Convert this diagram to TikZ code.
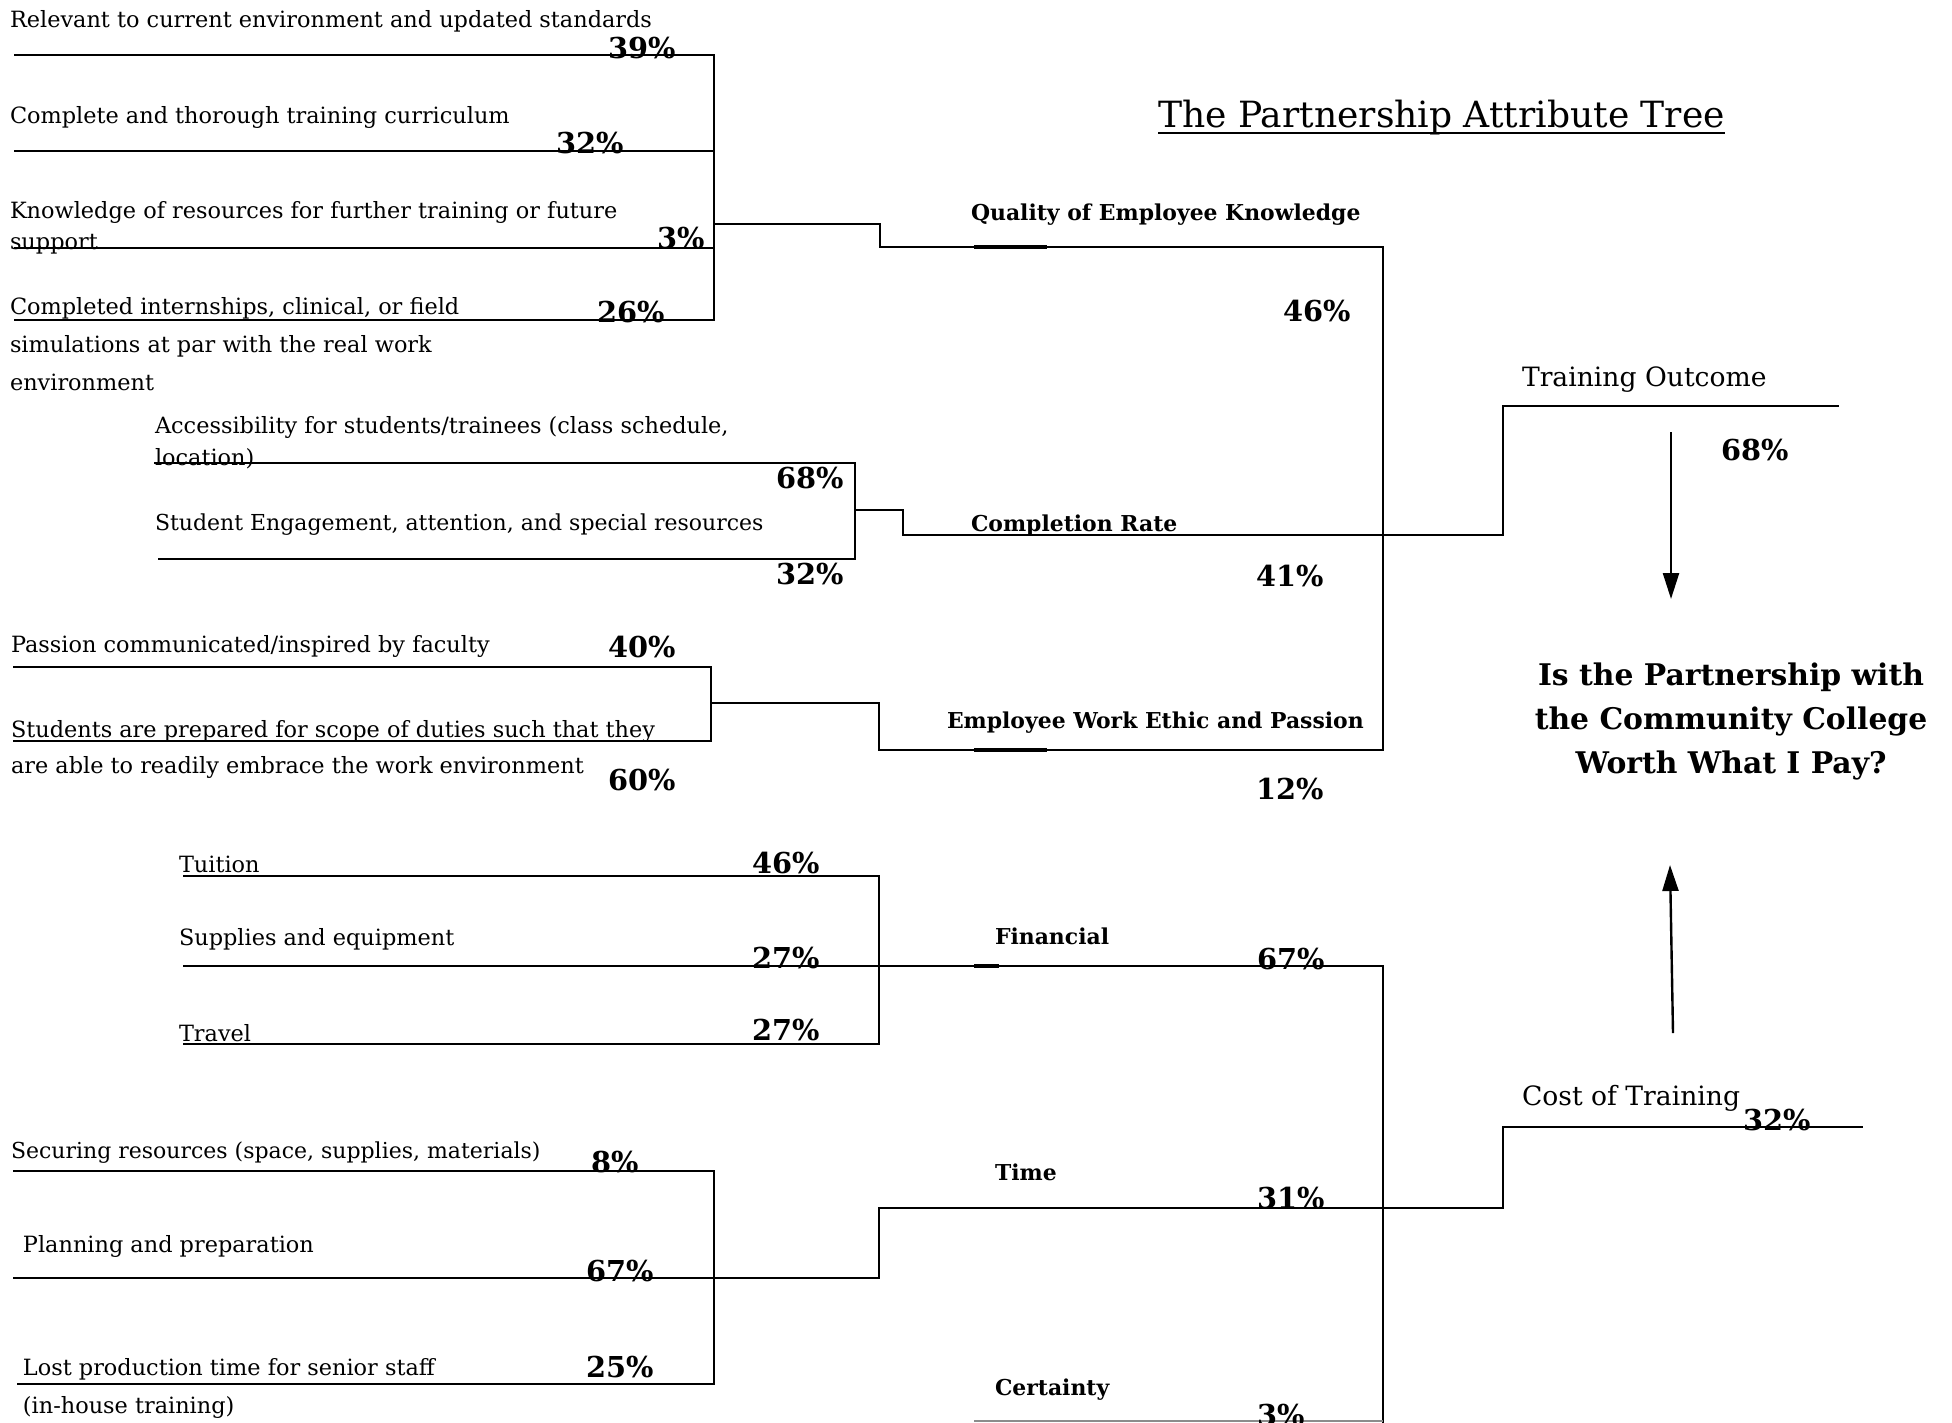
\documentclass[tikz,border=0pt]{standalone}
\usepackage{fontspec}
\setmainfont{DejaVu Serif}
\usetikzlibrary{arrows.meta}
\tikzset{
  txt/.style={inner sep=0pt, outer sep=0pt, anchor=base west},
  lbl/.style={txt, align=left, font=\fontsize{22.4}{31}\selectfont},
  pct/.style={txt, font=\bfseries\fontsize{28.8}{30}\selectfont},
  cat/.style={txt, font=\bfseries\fontsize{21.9}{26}\selectfont},
  side/.style={txt, font=\fontsize{26.6}{30}\selectfont},
  ln/.style={line width=2.2pt, line cap=rect},
  thick seg/.style={line width=3.4pt},
  arr/.style={line width=2.4pt, -{Triangle[length=26pt,width=16pt]}},
}
\begin{document}
\begin{tikzpicture}[x=1pt,y=-1pt]
\useasboundingbox (0,0) rectangle (1952,1422);

% ---------- title ----------
\node[txt, font=\fontsize{36.1}{40}\selectfont] (title) at (1158,127) {The Partnership Attribute Tree};
\draw[line width=2.7pt] ([yshift=-6pt]title.base west) -- ([yshift=-6pt]title.base east);

% ---------- group A : Quality of Employee Knowledge ----------
\coordinate (a1s) at (15,55);   \coordinate (a1e) at (714,55);
\coordinate (a2s) at (15,151);  \coordinate (a2e) at (714,151);
\coordinate (a3s) at (15,248);  \coordinate (a3e) at (714,248);
\coordinate (a4s) at (15,320);  \coordinate (a4e) at (714,320);
\coordinate (aj) at (714,224);
\coordinate (q1) at (880,224); \coordinate (q2) at (880,247); \coordinate (q3) at (1383,247);
\draw[ln] (a1s) -- (a1e);
\draw[ln] (a2s) -- (a2e);
\draw[ln] (a3s) -- (a3e);
\draw[ln] (a4s) -- (a4e);
\draw[ln] (a1e) -- (a4e);
\draw[ln] (aj) -- (q1) -- (q2) -- (q3);

% (multi-line labels are anchored at the baseline of their last line)
\node[lbl] (la1) at (10,27) {Relevant to current environment and updated standards};
\node[lbl] (la2) at (10,123) {Complete and thorough training curriculum};
\node[lbl] (la3) at (10,249) {Knowledge of resources for further training or future\\support};
\node[lbl, font=\fontsize{22.4}{38}\selectfont] (la4) at (10,390) {Completed internships, clinical, or field\\simulations at par with the real work\\environment};
\node[pct] (pa1) at (608,58) {39\%};
\node[pct] (pa2) at (556,153) {32\%};
\node[pct] (pa3) at (657,248) {3\%};
\node[pct] (pa4) at (597,322) {26\%};

% ---------- group B : Completion Rate ----------
\coordinate (b1s) at (155,463); \coordinate (b1e) at (855,463);
\coordinate (b2s) at (159,559); \coordinate (b2e) at (855,559);
\coordinate (bj) at (855,510);
\coordinate (c1) at (903,510); \coordinate (c2) at (903,535); \coordinate (c3) at (1383,535);
\coordinate (to1) at (1503,535); \coordinate (to2) at (1503,406); \coordinate (to3) at (1838,406);
\draw[ln] (b1s) -- (b1e);
\draw[ln] (b2s) -- (b2e);
\draw[ln] (b1e) -- (b2e);
\draw[ln] (bj) -- (c1) -- (c2) -- (c3) -- (to1) -- (to2) -- (to3);

\node[lbl, font=\fontsize{22.4}{32}\selectfont] (lb1) at (155,465) {Accessibility for students/trainees (class schedule,\\location)};
\node[lbl, font=\fontsize{22}{31}\selectfont] (lb2) at (155,530) {Student Engagement, attention, and special resources};
\node[pct] (pb1) at (776,488) {68\%};
\node[pct] (pb2) at (776,584) {32\%};

% ---------- group C : Work Ethic ----------
\coordinate (c1s) at (14,667); \coordinate (c1e) at (711,667);
\coordinate (c2s) at (14,741); \coordinate (c2e) at (711,741);
\coordinate (cj) at (711,703);
\coordinate (w1) at (879,703); \coordinate (w2) at (879,750); \coordinate (w3) at (1383,750);
\draw[ln] (c1s) -- (c1e);
\draw[ln] (c2s) -- (c2e);
\draw[ln] (c1e) -- (c2e);
\draw[ln] (cj) -- (w1) -- (w2) -- (w3);
\draw[ln] (q3) -- (w3);

\node[lbl] (lc1) at (11,652) {Passion communicated/inspired by faculty};
\node[lbl, font=\fontsize{22.4}{36}\selectfont] (lc2) at (11,773) {Students are prepared for scope of duties such that they\\are able to readily embrace the work environment};
\node[pct] (pc1) at (608,657) {40\%};
\node[pct] (pc2) at (608,790) {60\%};

% ---------- middle labels ----------
\node[cat] (qek) at (971,220) {Quality of Employee Knowledge};
\node[pct] (pq) at (1283,321) {46\%};
\node[cat] (cr) at (971,531) {Completion Rate};
\node[pct] (pcr) at (1256,586) {41\%};
\node[cat] (we) at (947,728) {Employee Work Ethic and Passion};
\node[pct] (pwe) at (1256,799) {12\%};
\draw[thick seg] (974,247) -- (1047,247);
\draw[thick seg] (974,750) -- (1047,750);

% ---------- group D : Financial ----------
\coordinate (d1s) at (184,876);  \coordinate (d1e) at (879,876);
\coordinate (d2s) at (184,966);  \coordinate (d2e) at (879,966);
\coordinate (d3s) at (184,1044); \coordinate (d3e) at (879,1044);
\coordinate (f1) at (1383,966);
\draw[ln] (d1s) -- (d1e);
\draw[ln] (d2s) -- (d2e);
\draw[ln] (d3s) -- (d3e);
\draw[ln] (d1e) -- (d3e);
\draw[ln] (d2e) -- (f1);
\draw[thick seg] (974,966) -- (999,966);

\node[lbl] (ld1) at (179,872) {Tuition};
\node[lbl] (ld2) at (179,945) {Supplies and equipment};
\node[lbl] (ld3) at (179,1041) {Travel};
\node[pct] (pd1) at (752,873) {46\%};
\node[pct] (pd2) at (752,968) {27\%};
\node[pct] (pd3) at (752,1040) {27\%};

% ---------- group E : Time ----------
\coordinate (e1s) at (14,1171); \coordinate (e1e) at (714,1171);
\coordinate (e2s) at (14,1278); \coordinate (e2e) at (714,1278);
\coordinate (e3s) at (18,1384); \coordinate (e3e) at (714,1384);
\coordinate (t1) at (879,1278); \coordinate (t2) at (879,1208); \coordinate (t3) at (1383,1208);
\coordinate (ct1) at (1503,1208); \coordinate (ct2) at (1503,1127); \coordinate (ct3) at (1862,1127);
\coordinate (fb) at (1383,1422);
\draw[ln] (e1s) -- (e1e);
\draw[ln] (e2s) -- (e2e);
\draw[ln] (e3s) -- (e3e);
\draw[ln] (e1e) -- (e3e);
\draw[ln] (e2e) -- (t1) -- (t2) -- (t3) -- (ct1) -- (ct2) -- (ct3);
\draw[ln] (f1) -- (fb);
\draw[line width=2.2pt, black!45] (974,1421) -- (1383,1421);

\node[lbl, font=\fontsize{22}{31}\selectfont] (le1) at (11,1158) {Securing resources (space, supplies, materials)};
\node[lbl] (le2) at (23,1252) {Planning and preparation};
\node[lbl, font=\fontsize{22.4}{38}\selectfont] (le3) at (23,1413) {Lost production time for senior staff\\(in-house training)};
\node[pct] (pe1) at (591,1172) {8\%};
\node[pct] (pe2) at (586,1281) {67\%};
\node[pct] (pe3) at (586,1377) {25\%};

\node[cat] (fin) at (995,944) {Financial};
\node[pct] (pfin) at (1257,969) {67\%};
\node[cat] (tim) at (995,1180) {Time};
\node[pct] (ptim) at (1257,1208) {31\%};
\node[cat] (cer) at (995,1395) {Certainty};
\node[pct] (pcer) at (1257,1425) {3\%};

% ---------- right side ----------
\node[side] (tout) at (1522,386) {Training Outcome};
\node[pct] (ptout) at (1721,460) {68\%};
\node[side] (cost) at (1522,1105) {Cost of Training};
\node[pct] (pcost) at (1743,1130) {32\%};

\node[inner sep=0pt, anchor=base, align=center, font=\bfseries\fontsize{29.8}{44}\selectfont] (q) at (1731,773)
  {Is the Partnership with\\the Community College\\Worth What I Pay?};

\coordinate (dn1) at (1671,432); \coordinate (dn2) at (1671,599);
\coordinate (up1) at (1673,1033); \coordinate (up2) at (1670,865);
\draw[arr] (dn1) -- (dn2);
\draw[arr] (up1) -- (up2);
\end{tikzpicture}
\end{document}
